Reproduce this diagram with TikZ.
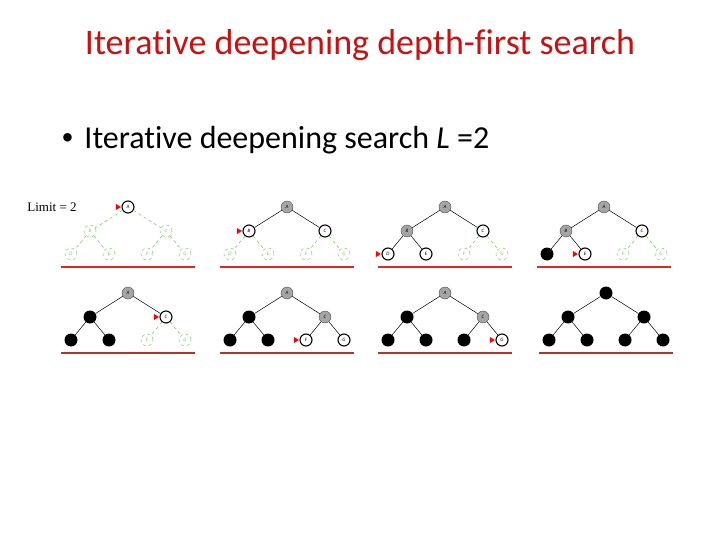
\documentclass[tikz,border=0pt]{standalone}
\usepackage{fontspec}
\setmainfont{Carlito}[Ligatures=NoCommon]
\newfontfamily\limitfont{Liberation Serif}
\usetikzlibrary{positioning,shapes.geometric}

\definecolor{titlered}{RGB}{204,16,16}
\definecolor{gonegreen}{RGB}{100,205,80}
\definecolor{seengray}{RGB}{165,165,165}
\definecolor{cutred}{RGB}{222,40,40}
\definecolor{cutdark}{RGB}{176,52,52}

\tikzset{
  treenode/.style={circle, minimum size=12pt, inner sep=0pt, font=\fontsize{5}{5}\selectfont\itshape},
  open/.style={treenode, draw=black, line width=1.1pt, fill=white, node contents={#1}},
  seen/.style={treenode, draw=black!70, fill=seengray, node contents={#1}},
  done/.style={treenode, fill=black, minimum size=13pt, node contents={}},
  gone/.style={treenode, draw=gonegreen, dashed, text=gonegreen, node contents={#1}},
  open-line/.style={black, line width=0.5pt},
  seen-line/.style={black, line width=0.5pt},
  done-line/.style={black, line width=0.5pt},
  gone-line/.style={gonegreen, dashed, line width=0.5pt},
  marker/.style={isosceles triangle, isosceles triangle stretches, fill=red, inner sep=0pt, minimum width=6pt, minimum height=5pt}
}

\begin{document}
\begin{tikzpicture}[x=1pt, y=-1pt]
\useasboundingbox (0,0) rectangle (720,540);

\node (title) at (360,45) [text=titlered, font=\fontsize{36}{36}\selectfont]{Iterative deepening depth-first search};
\node (point) at (58,140) [anchor=west, font=\fontsize{32}{32}\selectfont]{\raisebox{3.5pt}{\fontsize{24}{24}\selectfont\textbullet}\hspace{11pt}Iterative deepening search \textit{L} =2};
\node (limit) at (52,207) [font=\limitfont\fontsize{13}{13}\selectfont]{Limit = 2};

\foreach \i/\x/\y/\nA/\nB/\nC/\nD/\nE/\nF/\nG/\lc in {
  1/128/207/open/gone/gone/gone/gone/gone/gone/cutred,
  2/287/207/seen/open/open/gone/gone/gone/gone/cutred,
  3/445/207/seen/seen/open/open/open/gone/gone/cutred,
  4/604/207/seen/seen/open/done/open/gone/gone/cutred,
  5/128/293/seen/done/open/done/done/gone/gone/cutdark,
  6/287/293/seen/done/seen/done/done/open/open/cutdark,
  7/445/293/seen/done/seen/done/done/done/open/cutdark,
  8/606/293/done/done/done/done/done/done/done/cutdark}
{
  \node (A\i) at (\x,\y) [\nA=A];
  \node (B\i) at (\x-38,\y+24) [\nB=B];
  \node (C\i) at (\x+38,\y+24) [\nC=C];
  \node (D\i) at (\x-57,\y+47) [\nD=D];
  \node (E\i) at (\x-19,\y+47) [\nE=E];
  \node (F\i) at (\x+19,\y+47) [\nF=F];
  \node (G\i) at (\x+57,\y+47) [\nG=G];
  \draw [\nB-line] (A\i) -- (B\i);
  \draw [\nC-line] (A\i) -- (C\i);
  \draw [\nD-line] (B\i) -- (D\i);
  \draw [\nE-line] (B\i) -- (E\i);
  \draw [\nF-line] (C\i) -- (F\i);
  \draw [\nG-line] (C\i) -- (G\i);
  \coordinate (l\i) at (\x-67,\y+60);
  \coordinate (r\i) at (\x+67,\y+60);
  \draw [\lc, line width=1.2pt] (l\i) -- (r\i);
}

\node [marker, left=0pt of A1]{};
\node [marker, left=0pt of B2]{};
\node [marker, left=0pt of D3]{};
\node [marker, left=0pt of E4]{};
\node [marker, left=0pt of C5]{};
\node [marker, left=0pt of F6]{};
\node [marker, left=0pt of G7]{};

\end{tikzpicture}
\end{document}
